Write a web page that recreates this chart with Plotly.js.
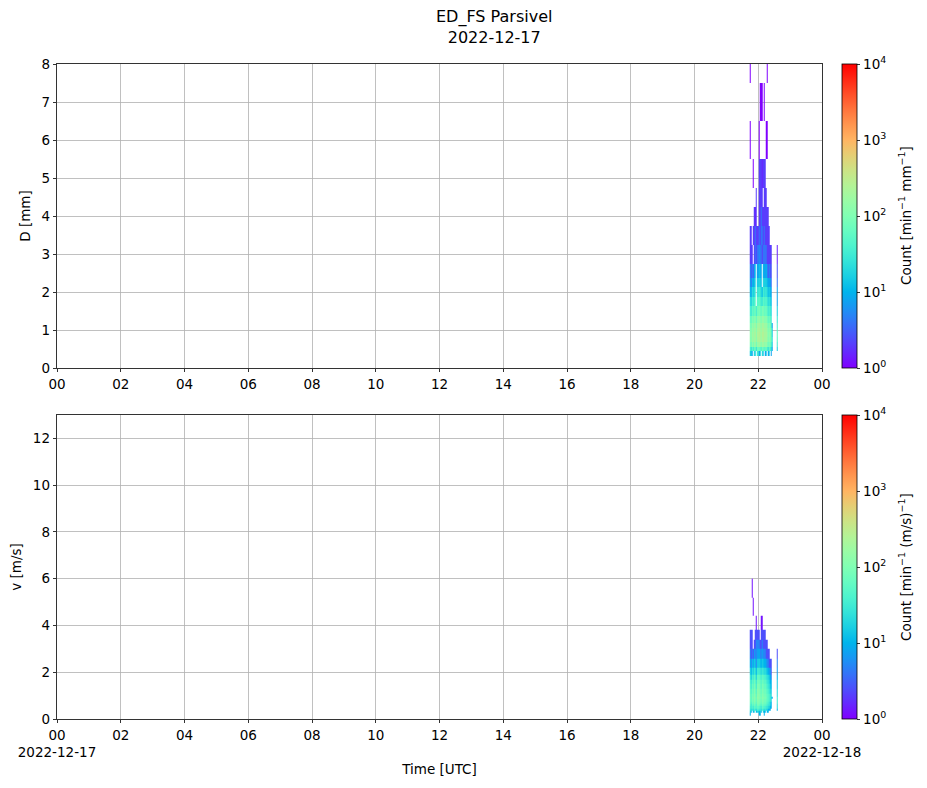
<!DOCTYPE html>
<html>
<head>
<meta charset="utf-8">
<script src="https://cdn.plot.ly/plotly-3.0.1.min.js"></script>
<style>html,body{margin:0;padding:0;background:#fff;}#chart{width:927px;height:788px;}</style>
</head>
<body>
<div id="chart"></div>
<script>
// ---- data ----
const timeEdges = ["2022-12-17 21:44","2022-12-17 21:46","2022-12-17 21:48","2022-12-17 21:50","2022-12-17 21:52",
  "2022-12-17 21:54","2022-12-17 21:56","2022-12-17 21:58","2022-12-17 22:00","2022-12-17 22:02",
  "2022-12-17 22:04","2022-12-17 22:06","2022-12-17 22:08","2022-12-17 22:10","2022-12-17 22:12",
  "2022-12-17 22:14","2022-12-17 22:16","2022-12-17 22:18","2022-12-17 22:20","2022-12-17 22:22",
  "2022-12-17 22:24","2022-12-17 22:26","2022-12-17 22:28","2022-12-17 22:30","2022-12-17 22:32",
  "2022-12-17 22:34","2022-12-17 22:36"];
const diamEdges = [0.312,0.437,0.562,0.687,0.812,0.937,1.062,1.187,1.375,1.625,1.875,2.125,2.375,2.75,3.25,3.75,4.25,4.75,5.5,6.5,7.5,8.5];
const velEdges = [0.15,0.25,0.35,0.45,0.55,0.65,0.75,0.85,0.95,1.1,1.3,1.5,1.7,1.9,2.2,2.6,3.0,3.4,3.8,4.4,5.2,6.0];
// counts [min^-1 mm^-1], rows = diameter classes (bottom to top), columns = time bins
const countsD = [
 [16,16,8,0,24,16,0,32,8,16,0,24,16,0,8,16,0,8,16,0,8,0,0,0,0,0],
 [48,24,64,32,56,80,24,72,64,56,40,80,64,48,56,72,40,24,56,40,24,8,0,0,0,16],
 [96,64,160,88,136,176,72,152,200,144,112,168,184,128,144,160,104,72,96,80,48,16,0,0,0,32],
 [128,96,192,144,176,224,104,216,256,200,160,232,248,184,200,208,152,96,136,112,64,24,0,0,0,48],
 [136,104,208,152,184,240,112,232,272,216,168,248,264,192,208,216,160,104,144,120,72,16,0,0,0,56],
 [120,96,184,136,168,216,104,208,248,192,152,224,240,176,192,200,144,96,128,104,64,16,0,0,0,48],
 [104,80,160,120,144,192,88,184,224,168,136,200,216,152,168,176,128,80,112,88,48,8,0,0,0,40],
 [72,56,116,84,104,140,60,132,164,120,96,148,156,108,120,128,88,56,76,60,32,0,0,0,0,28],
 [40,28,68,48,60,84,32,76,96,72,56,88,92,64,72,76,52,32,44,36,20,0,0,0,0,16],
 [24,16,40,28,36,52,0,48,60,44,32,28,56,40,44,48,32,20,28,20,12,0,0,0,0,8],
 [12,8,24,16,20,32,0,28,36,28,20,12,36,24,28,28,20,12,16,12,8,0,0,0,0,8],
 [8,4,12,8,12,20,0,16,20,16,12,0,20,16,16,16,12,8,8,8,4,0,0,0,0,4],
 [5.3,2.7,5.3,2.7,8,10.7,0,8,13.3,10.7,8,0,10.7,8,8,10.7,5.3,2.7,5.3,2.7,2.7,0,0,0,0,2.7],
 [2,2,2,0,2,4,2,4,6,4,4,2,4,4,4,4,2,2,2,2,2,0,0,0,0,1.5],
 [2,2,0,2,2,4,2,2,4,2,4,4,2,4,2,2,2,2,2,0,0,0,0,0,0,0],
 [0,0,0,0,2,1.5,2,0,2,2,4,2,2,2,2,2,2,2,0,0,0,0,0,0,0,0],
 [0,0,0,0,0,0,2,0,2,2,2,2,0,2,2,2,0,0,0,0,0,0,0,0,0,0],
 [0,0,0,1,0,0,0,0,2,2,2,1.5,2,2,2,0,0,0,0,0,0,0,0,0,0,0],
 [1,0,0,0,0,0,0,0,1,0,0,0,0,0,0,1,1,0,0,0,0,0,0,0,0,0],
 [0,0,0,0,0,0,0,0,0,1,1,1,0,1,0,0,0,0,0,0,0,0,0,0,0,0],
 [1,0,0,0,0,0,0,0,0,0,0,0,0,0,0,0,1,0,0,0,0,0,0,0,0,0]
];
// counts [min^-1 (m/s)^-1], rows = velocity classes (bottom to top)
const countsV = [
 [10,0,0,0,0,0,0,0,10,10,0,0,0,10,0,0,0,0,0,0,0,0,0,0,0,0],
 [20,10,0,10,20,0,10,20,10,20,10,0,20,10,10,0,10,10,0,0,0,0,0,0,0,0],
 [30,20,30,20,40,30,20,40,30,30,20,40,30,20,30,20,20,10,10,10,0,0,0,0,0,10],
 [40,30,50,30,60,50,40,60,50,40,30,60,50,40,40,30,30,20,20,10,10,0,0,0,0,20],
 [60,30,70,50,80,70,40,90,80,60,50,80,70,60,60,50,40,30,30,20,10,0,0,0,0,20],
 [70,40,90,60,100,90,50,110,100,80,60,100,90,70,80,60,50,40,30,20,10,0,0,0,0,30],
 [80,50,100,70,120,100,60,120,110,90,70,110,100,80,90,70,60,50,40,30,20,0,0,0,0,30],
 [90,50,110,80,130,110,60,140,120,100,80,120,110,90,100,80,60,50,40,30,20,10,0,0,0,30],
 [80,50,100,70,120,100,50,130,120,90,70,110,100,80,90,70,60,50,40,30,20,0,0,0,0,20],
 [70,40,90,60,110,90,40,120,110,80,60,100,90,70,80,60,50,40,30,20,15,0,0,0,0,20],
 [60,30,80,50,90,80,30,100,100,70,50,90,80,60,70,50,40,30,25,15,10,0,0,0,0,15],
 [50,25,60,40,75,65,25,80,80,60,45,70,65,50,55,40,30,25,20,10,10,0,0,0,0,15],
 [35,15,45,30,55,50,15,60,60,45,35,55,50,40,40,30,25,20,15,10,5,0,0,0,0,10],
 [20,10,25,15,30,27,10,33,33,27,20,30,27,20,23,17,13,10,7,7,3,0,0,0,0,7],
 [10,5,12.5,7.5,15,12.5,5,15,17.5,12.5,10,15,12.5,10,10,7.5,5,5,2.5,2.5,2.5,0,0,0,0,5],
 [5,2.5,5,2.5,7.5,5,5,7.5,10,5,5,7.5,5,5,5,2.5,2.5,2.5,2.5,0,0,0,0,0,0,2.5],
 [2.5,2.5,2.5,0,2.5,2.5,5,5,5,2.5,2.5,5,2.5,2.5,2.5,2.5,2.5,0,0,0,0,0,0,0,0,0],
 [2.5,2.5,2.5,0,0,2.5,2.5,2.5,2.5,0,2.5,2.5,2.5,2.5,2.5,0,0,0,0,0,0,0,0,0,0,0],
 [0,0,0,0,0,0,1.25,0,0,0,1.25,1.25,0,0,0,0,0,0,0,0,0,0,0,0,0,0],
 [0,0,0,1.25,0,0,0,0,0,0,0,0,0,0,0,0,0,0,0,0,0,0,0,0,0,0],
 [0,0,1.25,0,0,0,0,0,0,0,0,0,0,0,0,0,0,0,0,0,0,0,0,0,0,0]
];
const hourTicks = ["2022-12-17 00:00","2022-12-17 02:00","2022-12-17 04:00","2022-12-17 06:00","2022-12-17 08:00",
  "2022-12-17 10:00","2022-12-17 12:00","2022-12-17 14:00","2022-12-17 16:00","2022-12-17 18:00",
  "2022-12-17 20:00","2022-12-17 22:00","2022-12-18 00:00"];
const hourLabels = ["00","02","04","06","08","10","12","14","16","18","20","22","00"];
const hourLabels2 = ["00<br>2022-12-17","02","04","06","08","10","12","14","16","18","20","22","00<br>2022-12-18"];
const cbTickVals = [0,1,2,3,4];
const cbTickText = ["10<sup>0</sup>","10<sup>1</sup>","10<sup>2</sup>","10<sup>3</sup>","10<sup>4</sup>"];

// ---- styling ----
function rainbow(t){
  const r = Math.min(1, Math.abs(2*t-0.5)), g = Math.sin(Math.PI*t), b = Math.cos(Math.PI*t/2);
  return 'rgb('+Math.round(r*255)+','+Math.round(g*255)+','+Math.round(b*255)+')';
}
const cscale = [];
for (let i=0;i<=20;i++){ cscale.push([i/20, rainbow(i/20)]); }
const toLog = m => m.map(row => row.map(v => v>0 ? Math.log10(v) : null));

const F = 'DejaVu Sans, sans-serif';
const FS = 13.5;
const plotL = 57, plotR = 822, W = 927, H = 788, pTop = 64, pBot = 719;
const ph = pBot-pTop, pw = plotR-plotL;
const d1 = [(pBot-368)/ph, 1], d2 = [0, (pBot-415)/ph];
const cbx = (842-plotL)/pw;

function cb(yTop){
  return {tickvals: cbTickVals, ticktext: cbTickText, thickness: 15, thicknessmode:'pixels',
    len: (368-64)/ph, lenmode:'fraction', y: yTop, yanchor:'top', x: cbx, xanchor:'left', xpad:0, ypad:0,
    outlinecolor:'#000', outlinewidth:0.8, ticks:'outside', ticklen:3.5, tickwidth:0.8, tickcolor:'#000',
    tickfont:{family:F,size:FS,color:'#000'}};
}

const traces = [
  {type:'heatmap', x: timeEdges, y: diamEdges, z: toLog(countsD), colorscale: cscale, zmin:0, zmax:4,
   zsmooth:false, xaxis:'x', yaxis:'y', colorbar: cb(1), hoverongaps:false},
  {type:'heatmap', x: timeEdges, y: velEdges, z: toLog(countsV), colorscale: cscale, zmin:0, zmax:4,
   zsmooth:false, xaxis:'x2', yaxis:'y2', colorbar: cb(d2[1]), hoverongaps:false}
];

const axCommon = {showline:true, mirror:true, linecolor:'#000', linewidth:0.8, ticks:'outside', ticklen:3.5,
  tickwidth:0.8, tickcolor:'#000', showgrid:true, gridcolor:'#b0b0b0', gridwidth:0.8, zeroline:false,
  tickfont:{family:F,size:FS,color:'#000'}, layer:'above traces'};

const layout = {
  width: W, height: H, paper_bgcolor:'#fff', plot_bgcolor:'#fff',
  margin:{l:plotL, r:W-plotR, t:pTop, b:H-pBot},
  showlegend:false,
  font:{family:F, size:FS, color:'#000'},
  xaxis: Object.assign({}, axCommon, {domain:[0,1], anchor:'y', type:'date',
    range:['2022-12-17 00:00','2022-12-18 00:00'], tickmode:'array', tickvals:hourTicks, ticktext:hourLabels}),
  yaxis: Object.assign({}, axCommon, {domain:d1, anchor:'x', range:[0,8], tickmode:'array', tickvals:[0,1,2,3,4,5,6,7,8],
    title:{text:'D [mm]', font:{family:F,size:FS,color:'#000'}, standoff:7}}),
  xaxis2: Object.assign({}, axCommon, {domain:[0,1], anchor:'y2', type:'date',
    range:['2022-12-17 00:00','2022-12-18 00:00'], tickmode:'array', tickvals:hourTicks, ticktext:hourLabels2,
    title:{text:'Time [UTC]', font:{family:F,size:FS,color:'#000'}, standoff:5}}),
  yaxis2: Object.assign({}, axCommon, {domain:d2, anchor:'x2', range:[0,13], tickmode:'array', tickvals:[0,2,4,6,8,10,12],
    title:{text:'v [m/s]', font:{family:F,size:FS,color:'#000'}, standoff:7}}),
  annotations:[
    {text:'ED_FS Parsivel<br>2022-12-17', xref:'paper', yref:'paper', x:(494-plotL)/pw, y:(pBot-26.5)/ph,
     xanchor:'center', yanchor:'middle', showarrow:false, font:{family:F,size:16,color:'#000'}},
    {text:'Count [min<sup>−1</sup> mm<sup>−1</sup>]', textangle:-90, xref:'paper', yref:'paper',
     x:(905-plotL)/pw, y:(pBot-216)/ph, xanchor:'center', yanchor:'middle', showarrow:false,
     font:{family:F,size:FS,color:'#000'}},
    {text:'Count [min<sup>−1</sup> (m/s)<sup>−1</sup>]', textangle:-90, xref:'paper', yref:'paper',
     x:(905-plotL)/pw, y:(pBot-567)/ph, xanchor:'center', yanchor:'middle', showarrow:false,
     font:{family:F,size:FS,color:'#000'}}
  ]
};

Plotly.newPlot('chart', traces, layout, {displayModeBar:false, staticPlot:true});
</script>
</body>
</html>
